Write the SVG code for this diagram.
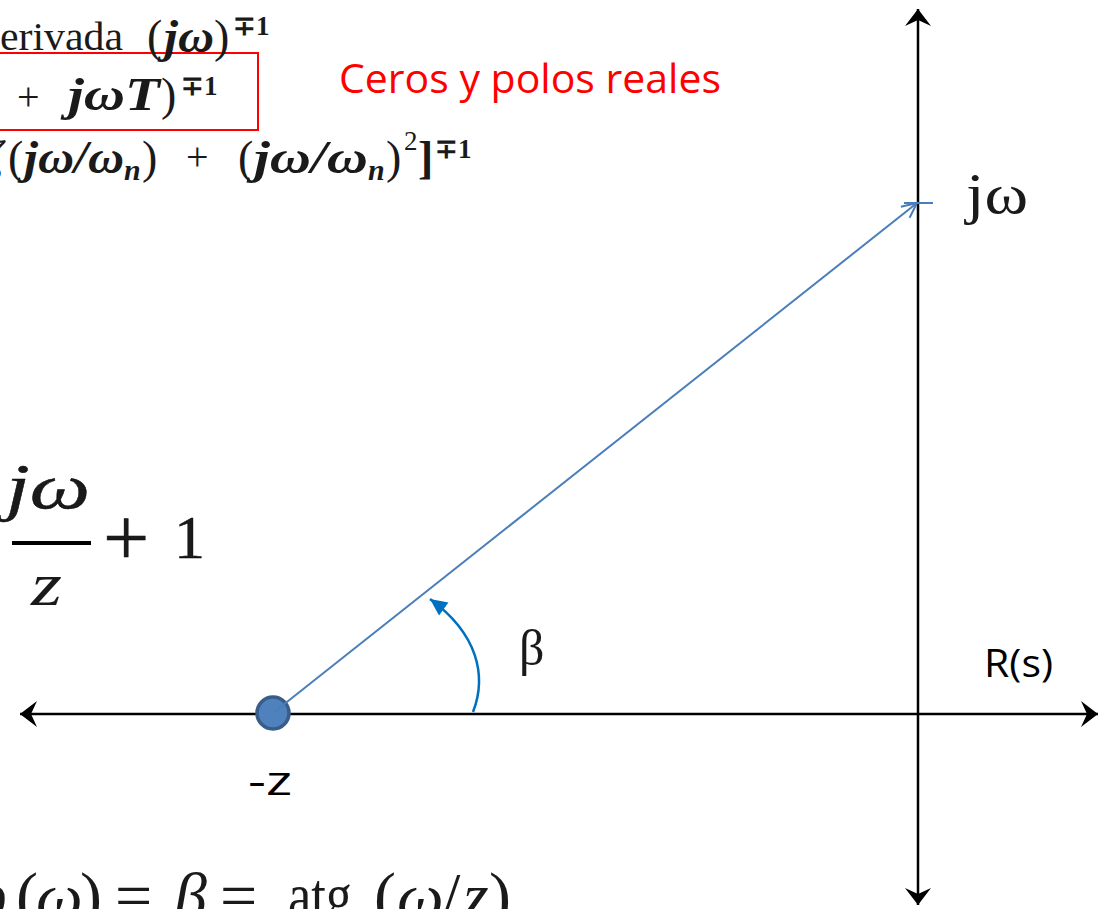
<svg xmlns="http://www.w3.org/2000/svg" width="1102" height="909" viewBox="0 0 1102 909">
<style>
.ser{font-family:"Liberation Serif","Times New Roman",serif;fill:#1a1a1a}
.it{font-style:italic}
.bi{font-style:italic;font-weight:bold}
.sans{font-family:"Open Sans","Liberation Sans",sans-serif;fill:#000}
.heavy{stroke:#000;stroke-width:0.4}
.axis{stroke:#000;stroke-width:2.5;fill:none}
.vec{stroke:#4a7ebb;stroke-width:2;fill:none}
.ang{stroke:#0070c0;stroke-width:2.5;fill:none}
</style>
<defs>
<marker id="axh" viewBox="-18 -14 19 28" refX="0" refY="0" markerWidth="19" markerHeight="28" markerUnits="userSpaceOnUse" orient="auto-start-reverse">
<path d="M0,0 L-17,-13 L-11,0 L-17,13 Z" fill="#000"/>
</marker>
<marker id="openh" viewBox="-16 -9 18 18" refX="0" refY="0" markerWidth="18" markerHeight="18" markerUnits="userSpaceOnUse" orient="auto">
<path d="M-15,-7 L0,0 L-15,7" fill="none" stroke="#4a7ebb" stroke-width="2"/>
</marker>
<marker id="angh" viewBox="-18 -9 19 18" refX="0" refY="0" markerWidth="19" markerHeight="18" markerUnits="userSpaceOnUse" orient="auto">
<path d="M0,0 L-17,-8 L-17,8 Z" fill="#0070c0"/>
</marker>
</defs>

<g id="formulas-top">
<rect x="-5" y="53" width="263" height="77" fill="none" stroke="#ff0000" stroke-width="2"/>
<text class="ser" font-size="41" y="50"><tspan x="0" textLength="123" lengthAdjust="spacingAndGlyphs">erivada</tspan></text>
<text class="ser" font-size="46" y="52"><tspan x="147">(</tspan><tspan x="164" class="bi" textLength="50" lengthAdjust="spacingAndGlyphs">jω</tspan><tspan x="214">)</tspan></text>
<text class="ser" font-size="27" font-weight="bold" x="233" y="35">∓1</text>
<text class="ser" font-size="40" x="17" y="110">+</text>
<text class="ser" font-size="46" y="110"><tspan x="68" class="bi" textLength="92" lengthAdjust="spacingAndGlyphs">jωT</tspan><tspan x="161">)</tspan></text>
<text class="ser" font-size="27" font-weight="bold" x="181" y="95">∓1</text>
<text class="ser" font-size="46" y="173"><tspan x="-16" class="bi">ζ</tspan><tspan x="8">(</tspan><tspan x="24" class="bi" textLength="100" lengthAdjust="spacingAndGlyphs">jω/ω</tspan><tspan x="124" y="180" class="bi" font-size="30">n</tspan><tspan x="142" y="173">)</tspan></text>
<text class="ser" font-size="40" x="186" y="170">+</text>
<text class="ser" font-size="46" y="173"><tspan x="238">(</tspan><tspan x="254" class="bi" textLength="114" lengthAdjust="spacingAndGlyphs">jω/ω</tspan><tspan x="368" y="180" class="bi" font-size="30">n</tspan><tspan x="386" y="173">)</tspan><tspan x="404" y="150" font-size="27">2</tspan><tspan x="418" y="173" font-weight="bold">]</tspan></text>
<text class="ser" font-size="27" font-weight="bold" x="435" y="158">∓1</text>
</g>

<g id="label-ceros">
<text x="339" y="93" font-family="Open Sans, Liberation Sans, sans-serif" font-size="40" fill="#ff0000" textLength="382" lengthAdjust="spacingAndGlyphs">Ceros y polos reales</text>
</g>

<g id="formula-left">
<text class="ser it heavy" font-size="64" x="6" y="508" fill="#000" textLength="84" lengthAdjust="spacingAndGlyphs">jω</text>
<rect x="12" y="541" width="79" height="4" fill="#000"/>
<text class="ser heavy" font-size="82" x="103" y="565" fill="#000">+</text>
<text class="ser heavy" font-size="62" x="174" y="558" fill="#000">1</text>
<text class="ser it" font-size="62" x="31" y="605" fill="#000" textLength="31" lengthAdjust="spacingAndGlyphs">z</text>
</g>

<g id="formula-bottom">
<text class="ser" font-size="66" y="918" fill="#000"><tspan x="-30" class="it">φ</tspan><tspan x="16">(</tspan><tspan x="36" class="it">ω</tspan><tspan x="80">)</tspan><tspan x="115">=</tspan><tspan x="174" class="it">β</tspan><tspan x="220">=</tspan><tspan x="288" textLength="64" lengthAdjust="spacingAndGlyphs">atg</tspan><tspan x="374">(</tspan><tspan x="397" class="it">ω</tspan><tspan x="442">/</tspan><tspan x="463" class="it">z</tspan><tspan x="489">)</tspan></text>
</g>

<g id="connectors">
<line class="axis" x1="20" y1="714" x2="1098" y2="714" marker-start="url(#axh)" marker-end="url(#axh)"/>
<line class="axis" x1="918" y1="9" x2="918" y2="905" marker-start="url(#axh)" marker-end="url(#axh)"/>
<line x1="904" y1="203" x2="933" y2="203" stroke="#4a7ebb" stroke-width="2"/>
<path class="ang" d="M473,712 C487,676 478,634 430,599" marker-end="url(#angh)"/>
</g>

<g id="node-pole">
<circle cx="273" cy="713" r="16" fill="#4f81bd" stroke="#385d8a" stroke-width="3.5"/>
</g>

<g id="vector">
<line class="vec" x1="273" y1="713" x2="917" y2="203" marker-end="url(#openh)"/>
</g>

<g id="labels">
<text class="sans" font-size="40" x="248" y="795" textLength="44" lengthAdjust="spacingAndGlyphs">-z</text>
<text class="sans" font-size="38" x="984" y="677" textLength="69" lengthAdjust="spacingAndGlyphs">R(s)</text>
<text class="ser" font-size="58" x="966" y="213" fill="#000" textLength="62" lengthAdjust="spacingAndGlyphs">jω</text>
<text class="ser" font-size="50" x="519" y="665" fill="#000">β</text>
</g>
</svg>
